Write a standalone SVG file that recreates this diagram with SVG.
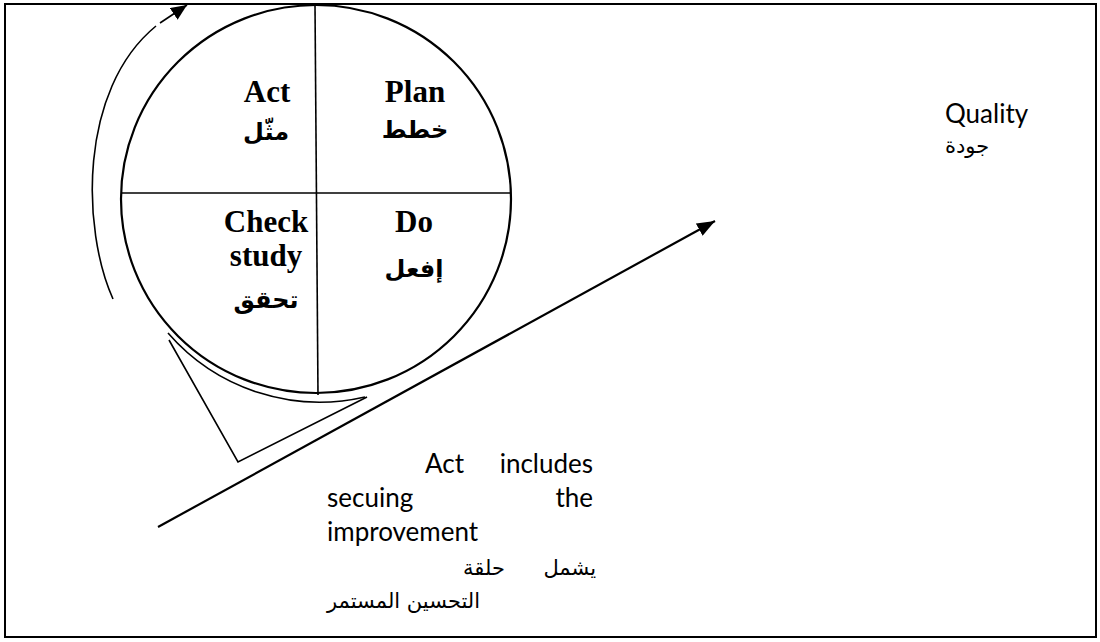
<svg xmlns="http://www.w3.org/2000/svg" width="1100" height="642" viewBox="0 0 1100 642">
  <style>
    .frame { fill: none; stroke: #000; stroke-width: 2; }
    .ln { fill: none; stroke: #000; stroke-width: 1.6; }
    .thick { fill: none; stroke: #000; stroke-width: 2.2; }
    .lbl { font-family: 'Liberation Serif', 'Times New Roman', serif; font-weight: bold; font-size: 31px; fill: #000; text-anchor: middle; }
    .ar { font-family: 'DejaVu Sans', sans-serif; font-weight: bold; font-size: 24px; fill: #000; text-anchor: middle; }
    .body { font-family: Lato, 'Liberation Sans', sans-serif; font-size: 26px; fill: #000; }
    .arbody { font-family: 'DejaVu Sans', sans-serif; font-size: 21px; fill: #000; }
  </style>
  <defs>
    <marker id="head" markerUnits="userSpaceOnUse" markerWidth="20" markerHeight="14" refX="18" refY="7" orient="auto">
      <path d="M0,0 L18,7 L0,14 z" fill="#000"/>
    </marker>
    <marker id="headSmall" markerUnits="userSpaceOnUse" markerWidth="18" markerHeight="14" refX="16" refY="7" orient="auto">
      <path d="M0,0 L16,7 L0,14 z" fill="#000"/>
    </marker>
  </defs>

  <rect width="1100" height="642" fill="#fff"/>
  <rect class="frame" x="5" y="4" width="1091" height="633"/>

  <!-- PDCA wheel -->
  <g id="wheel">
    <ellipse class="thick" cx="316" cy="199" rx="195" ry="194"/>
    <line class="ln" x1="121" y1="193" x2="511" y2="193"/>
    <line class="ln" x1="315" y1="5" x2="318" y2="395"/>
  </g>

  <g id="act">
    <text class="lbl" x="267" y="102">Act</text>
    <text class="ar" x="266" y="140">مثّل</text>
  </g>
  <g id="plan">
    <text class="lbl" x="415" y="102">Plan</text>
    <text class="ar" x="415" y="138">خطط</text>
  </g>
  <g id="check">
    <text class="lbl" x="266" y="232">Check</text>
    <text class="lbl" x="266" y="266">study</text>
    <text class="ar" x="266" y="308">تحقق</text>
  </g>
  <g id="do">
    <text class="lbl" x="414" y="232">Do</text>
    <text class="ar" x="414" y="277">إفعل</text>
  </g>

  <!-- wedge holding the wheel on the slope -->
  <g id="wedge">
    <path class="ln" d="M168,333 A201,201 0 0 0 365,397"/>
    <polyline class="ln" points="169,340 238,462 367,397"/>
  </g>

  <g id="connectors">
    <!-- rotation of the cycle -->
    <path class="ln" d="M113,299 C82,230 78,90 156,26"/>
    <line class="ln" x1="160" y1="23" x2="187" y2="5" marker-end="url(#headSmall)"/>
    <!-- quality slope -->
    <line class="thick" x1="158" y1="527" x2="715" y2="221" marker-end="url(#head)"/>
  </g>

  <g id="quality">
    <text class="body" x="945" y="123">Quality</text>
    <text class="arbody" x="945" y="153">جودة</text>
  </g>

  <g id="note">
    <text class="body" x="425" y="473">Act</text>
    <text class="body" x="593" y="473" text-anchor="end">includes</text>
    <text class="body" x="327" y="507">secuing</text>
    <text class="body" x="593" y="507" text-anchor="end">the</text>
    <text class="body" x="327" y="541">improvement</text>
    <text class="arbody" x="596" y="575" text-anchor="end">يشمل</text>
    <text class="arbody" x="484" y="575" text-anchor="middle">حلقة</text>
    <text class="arbody" x="327" y="608">التحسين المستمر</text>
  </g>
</svg>
